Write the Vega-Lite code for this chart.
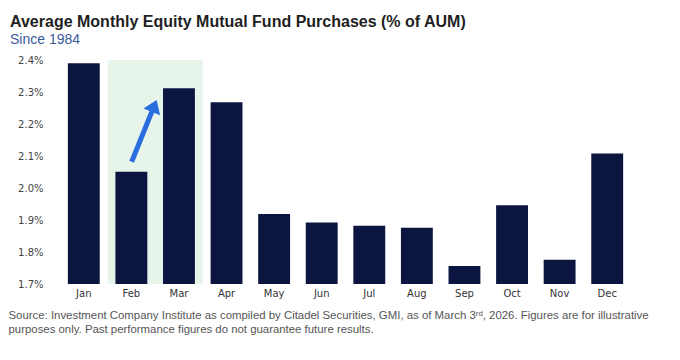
{
  "$schema": "https://vega.github.io/schema/vega-lite/v6.json",
  "width": 571,
  "height": 224,
  "autosize": {"type": "none"},
  "padding": {"left": 60, "top": 60, "right": 49, "bottom": 76},
  "background": "white",
  "title": {
    "text": "Average Monthly Equity Mutual Fund Purchases (% of AUM)",
    "subtitle": "Since 1984",
    "anchor": "start",
    "frame": "group",
    "dx": -50,
    "font": "Liberation Sans",
    "fontSize": 16,
    "fontWeight": "bold",
    "color": "#1f1f1f",
    "subtitleFont": "Liberation Sans",
    "subtitleFontSize": 14,
    "subtitleColor": "#3b5b9c",
    "subtitlePadding": 3,
    "offset": 8
  },
  "config": {
    "view": {"stroke": null},
    "axisY": {
      "title": null,
      "domain": false,
      "ticks": false,
      "grid": false,
      "tickCount": 8,
      "labelOverlap": false,
      "labelFont": "DejaVu Sans",
      "labelFontSize": 10,
      "labelColor": "#444444",
      "labelPadding": 17
    }
  },
  "data": {
    "values": [
      {"month": "Jan", "purchases": 2.39},
      {"month": "Feb", "purchases": 2.051},
      {"month": "Mar", "purchases": 2.312},
      {"month": "Apr", "purchases": 2.268},
      {"month": "May", "purchases": 1.919},
      {"month": "Jun", "purchases": 1.892},
      {"month": "Jul", "purchases": 1.882},
      {"month": "Aug", "purchases": 1.876},
      {"month": "Sep", "purchases": 1.756},
      {"month": "Oct", "purchases": 1.946},
      {"month": "Nov", "purchases": 1.776},
      {"month": "Dec", "purchases": 2.108}
    ]
  },
  "layer": [
    {
      "data": {"values": [{"highlight": "Feb–Mar"}]},
      "mark": {"type": "rect", "color": "#e6f4ea"},
      "encoding": {
        "x": {"datum": 1, "type": "quantitative", "scale": {"domain": [0, 12]}, "axis": null},
        "x2": {"datum": 3},
        "y": {
          "datum": 2.4,
          "type": "quantitative",
          "scale": {"domain": [1.7, 2.4], "zero": false, "nice": false},
          "axis": {"values": [1.7, 1.8, 1.9, 2.0, 2.1, 2.2, 2.3, 2.4], "labelOverlap": false, "labelExpr": "format(datum.value, '.1f') + '%'"}
        },
        "y2": {"datum": 1.7}
      }
    },
    {
      "mark": {"type": "bar", "color": "#0b1540"},
      "encoding": {
        "x": {
          "field": "month",
          "type": "nominal",
          "sort": null,
          "scale": {"paddingInner": 0.33, "paddingOuter": 0.165},
          "axis": {
            "domain": false,
            "ticks": false,
            "labelAngle": 0,
            "labelFont": "DejaVu Sans",
            "labelFontSize": 10,
            "labelColor": "#333333",
            "labelPadding": 4,
            "title": [
              "Source: Investment Company Institute as compiled by Citadel Securities, GMI, as of March 3ʳᵈ, 2026. Figures are for illustrative",
              "purposes only. Past performance figures do not guarantee future results."
            ],
            "titleAnchor": "start",
            "titleAlign": "left",
            "titleBaseline": "top",
            "titleX": -52,
            "titleY": 25,
            "titleFont": "Liberation Sans",
            "titleFontSize": 11.4,
            "titleFontWeight": "normal",
            "titleColor": "#555555",
            "titleLineHeight": 14.5
          }
        },
        "y": {
          "field": "purchases",
          "type": "quantitative",
          "scale": {"domain": [1.7, 2.4], "zero": false, "nice": false},
          "axis": {"values": [1.7, 1.8, 1.9, 2.0, 2.1, 2.2, 2.3, 2.4], "labelOverlap": false, "labelExpr": "format(datum.value, '.1f') + '%'"}
        },
        "y2": {"datum": 1.7}
      }
    },
    {
      "data": {"values": [{"note": "Feb to Mar rise"}]},
      "mark": {"type": "rule", "color": "#2a6ddf", "strokeWidth": 5},
      "encoding": {
        "x": {"datum": 1.506, "type": "quantitative", "scale": {"domain": [0, 12]}, "axis": null},
        "x2": {"datum": 1.945},
        "y": {
          "datum": 2.082,
          "type": "quantitative",
          "axis": {"values": [1.7, 1.8, 1.9, 2.0, 2.1, 2.2, 2.3, 2.4], "labelOverlap": false, "labelExpr": "format(datum.value, '.1f') + '%'"}
        },
        "y2": {"datum": 2.244}
      }
    },
    {
      "data": {"values": [{"note": "Feb to Mar rise"}]},
      "mark": {"type": "point", "shape": "M0,-1L1,0.44L-1,0.44Z", "filled": true, "opacity": 1, "color": "#2a6ddf", "size": 324, "angle": 22},
      "encoding": {
        "x": {"datum": 1.96, "type": "quantitative", "scale": {"domain": [0, 12]}, "axis": null},
        "y": {
          "datum": 2.249,
          "type": "quantitative",
          "axis": {"values": [1.7, 1.8, 1.9, 2.0, 2.1, 2.2, 2.3, 2.4], "labelOverlap": false, "labelExpr": "format(datum.value, '.1f') + '%'"}
        }
      }
    }
  ],
  "resolve": {"scale": {"x": "independent"}}
}
